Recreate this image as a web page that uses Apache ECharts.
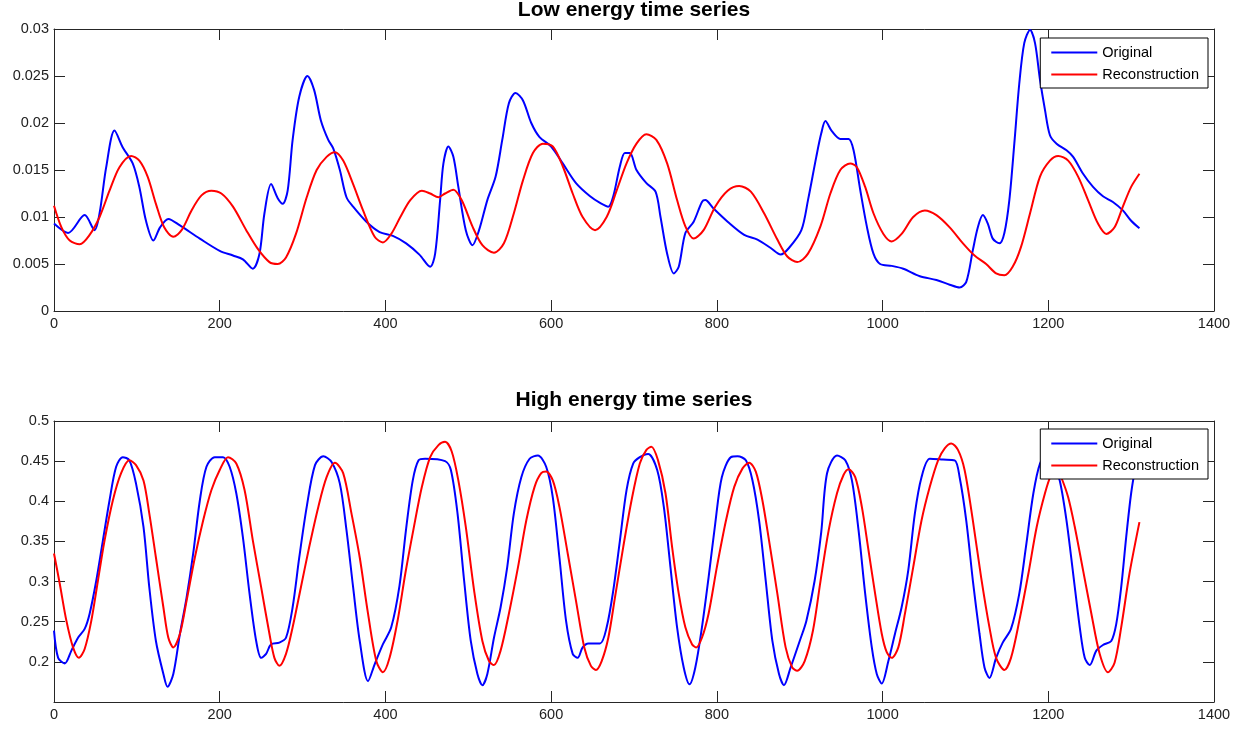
<!DOCTYPE html>
<html>
<head>
<meta charset="utf-8">
<title>Low / High energy time series</title>
<script src="https://cdn.jsdelivr.net/npm/echarts@6/dist/echarts.min.js"></script>
<style>
  html, body { margin: 0; padding: 0; background: #fff; }
  #main { width: 1259px; height: 731px; }
</style>
</head>
<body>
<div id="main"></div>
<script>
// values, [sample index, value]
var lowOriginal = [[0,0.0093],[17,0.0083],[37,0.0102],[49,0.0086],[55,0.0104],[63,0.0153],[73,0.0192],[83,0.0174],[95,0.0157],[103,0.0132],[111,0.0096],[120,0.0075],[128,0.0089],[138,0.0098],[152,0.0091],[176,0.0077],[200,0.0064],[216,0.0059],[228,0.0055],[240,0.0045],[248,0.0061],[254,0.0104],[262,0.0135],[270,0.0120],[276,0.0114],[282,0.0128],[288,0.0182],[296,0.0228],[306,0.0250],[314,0.0235],[322,0.0203],[331,0.0182],[337,0.0173],[345,0.0150],[353,0.0121],[361,0.0111],[377,0.0095],[393,0.0084],[409,0.0080],[425,0.0072],[441,0.0060],[454,0.0047],[460,0.0061],[466,0.0118],[470,0.0157],[476,0.0175],[482,0.0164],[488,0.0132],[497,0.0086],[505,0.0070],[513,0.0086],[523,0.0118],[533,0.0143],[541,0.0182],[549,0.0221],[557,0.0232],[566,0.0224],[576,0.0200],[586,0.0185],[600,0.0175],[614,0.0157],[630,0.0136],[647,0.0122],[659,0.0115],[669,0.0111],[675,0.0122],[683,0.0154],[689,0.0168],[695,0.0168],[703,0.0150],[715,0.0136],[726,0.0127],[732,0.0100],[740,0.0061],[748,0.0040],[754,0.0047],[762,0.0083],[772,0.0095],[782,0.0116],[786,0.0118],[796,0.0109],[813,0.0095],[833,0.0081],[849,0.0076],[865,0.0067],[877,0.0060],[887,0.0067],[902,0.0086],[910,0.0118],[920,0.0164],[926,0.0189],[931,0.0202],[939,0.0191],[949,0.0183],[959,0.0183],[965,0.0171],[973,0.0129],[981,0.0090],[989,0.0061],[997,0.0050],[1011,0.0048],[1025,0.0045],[1045,0.0037],[1065,0.0033],[1081,0.0028],[1093,0.0025],[1101,0.0031],[1109,0.0065],[1115,0.0089],[1121,0.0102],[1127,0.0093],[1133,0.0077],[1141,0.0072],[1147,0.0083],[1153,0.0118],[1159,0.0178],[1165,0.0242],[1171,0.0285],[1178,0.0299],[1184,0.0285],[1190,0.0246],[1196,0.0214],[1202,0.0187],[1210,0.0178],[1222,0.0171],[1230,0.0164],[1242,0.0146],[1254,0.0132],[1266,0.0122],[1278,0.0116],[1290,0.0107],[1300,0.0096],[1310,0.0088]];

var lowRecon = [[0,0.0112],[9,0.0089],[19,0.0075],[31,0.0071],[43,0.0081],[55,0.0100],[67,0.0128],[79,0.0153],[93,0.0165],[103,0.0160],[113,0.0143],[123,0.0114],[133,0.0089],[144,0.0079],[154,0.0086],[166,0.0107],[178,0.0123],[190,0.0128],[202,0.0125],[216,0.0111],[232,0.0086],[246,0.0066],[260,0.0052],[270,0.0050],[280,0.0057],[292,0.0082],[305,0.0121],[317,0.0150],[329,0.0164],[339,0.0169],[349,0.0160],[361,0.0135],[373,0.0107],[387,0.0079],[397,0.0073],[407,0.0082],[418,0.0100],[430,0.0118],[444,0.0128],[454,0.0125],[464,0.0121],[472,0.0125],[482,0.0129],[492,0.0118],[505,0.0090],[517,0.0070],[531,0.0062],[543,0.0072],[555,0.0104],[566,0.0139],[578,0.0168],[590,0.0178],[602,0.0175],[614,0.0154],[626,0.0125],[638,0.0100],[653,0.0086],[667,0.0100],[679,0.0128],[691,0.0157],[703,0.0178],[715,0.0188],[727,0.0182],[740,0.0157],[752,0.0118],[762,0.0090],[772,0.0077],[784,0.0086],[798,0.0111],[813,0.0128],[827,0.0133],[841,0.0127],[857,0.0104],[873,0.0076],[885,0.0058],[897,0.0052],[910,0.0061],[925,0.0090],[937,0.0125],[949,0.0150],[961,0.0157],[969,0.0153],[979,0.0132],[989,0.0104],[1001,0.0082],[1011,0.0074],[1023,0.0082],[1037,0.0100],[1051,0.0107],[1065,0.0102],[1081,0.0089],[1097,0.0072],[1111,0.0059],[1125,0.0050],[1137,0.0040],[1147,0.0038],[1157,0.0047],[1167,0.0068],[1178,0.0104],[1190,0.0143],[1202,0.0160],[1212,0.0165],[1224,0.0160],[1236,0.0143],[1248,0.0118],[1260,0.0093],[1270,0.0082],[1280,0.0089],[1290,0.0111],[1300,0.0132],[1310,0.0146]];

var highOriginal = [[0,0.239],[5,0.205],[13,0.198],[21,0.214],[29,0.230],[37,0.241],[43,0.260],[51,0.301],[59,0.351],[67,0.401],[75,0.443],[83,0.455],[91,0.451],[99,0.422],[108,0.368],[115,0.293],[123,0.226],[132,0.185],[137,0.169],[144,0.185],[152,0.235],[160,0.280],[168,0.335],[176,0.401],[184,0.443],[194,0.455],[204,0.455],[212,0.443],[220,0.410],[228,0.355],[236,0.285],[244,0.226],[250,0.205],[256,0.210],[262,0.222],[272,0.224],[280,0.230],[288,0.268],[296,0.330],[305,0.393],[315,0.445],[325,0.456],[335,0.449],[345,0.422],[353,0.364],[361,0.293],[369,0.226],[379,0.176],[387,0.197],[397,0.222],[407,0.243],[417,0.295],[425,0.366],[433,0.426],[440,0.451],[448,0.453],[472,0.450],[479,0.439],[487,0.385],[495,0.301],[503,0.226],[511,0.185],[517,0.171],[523,0.185],[531,0.230],[539,0.268],[547,0.318],[555,0.385],[564,0.430],[574,0.453],[584,0.457],[594,0.443],[602,0.405],[610,0.330],[618,0.251],[626,0.210],[632,0.205],[638,0.218],[645,0.223],[659,0.223],[667,0.243],[675,0.289],[683,0.351],[691,0.414],[699,0.447],[707,0.455],[717,0.459],[728,0.439],[736,0.393],[744,0.318],[752,0.243],[760,0.193],[767,0.172],[774,0.193],[782,0.243],[790,0.305],[798,0.372],[806,0.430],[817,0.455],[825,0.456],[835,0.451],[843,0.426],[851,0.376],[859,0.301],[867,0.226],[875,0.185],[881,0.171],[889,0.193],[900,0.226],[908,0.251],[918,0.301],[926,0.362],[933,0.435],[945,0.457],[955,0.451],[963,0.426],[971,0.364],[979,0.285],[987,0.218],[993,0.185],[999,0.173],[1007,0.201],[1015,0.235],[1023,0.268],[1031,0.314],[1039,0.385],[1047,0.430],[1057,0.453],[1073,0.452],[1087,0.451],[1093,0.430],[1101,0.376],[1109,0.301],[1117,0.235],[1123,0.193],[1129,0.180],[1137,0.205],[1145,0.224],[1155,0.241],[1165,0.285],[1173,0.343],[1182,0.410],[1190,0.447],[1198,0.456],[1206,0.449],[1214,0.425],[1222,0.376],[1230,0.310],[1238,0.243],[1244,0.205],[1250,0.196],[1258,0.214],[1266,0.221],[1276,0.226],[1282,0.247],[1288,0.293],[1294,0.355],[1300,0.410],[1305,0.440],[1310,0.455]];

var highRecon = [[0,0.335],[7,0.297],[15,0.251],[23,0.218],[30,0.205],[37,0.216],[45,0.251],[53,0.301],[61,0.351],[71,0.401],[81,0.435],[91,0.451],[99,0.445],[108,0.426],[115,0.385],[123,0.330],[132,0.268],[138,0.230],[144,0.218],[152,0.235],[160,0.276],[170,0.330],[180,0.376],[190,0.414],[200,0.439],[210,0.455],[220,0.447],[230,0.414],[240,0.351],[250,0.293],[260,0.235],[266,0.205],[272,0.195],[280,0.210],[288,0.243],[298,0.293],[308,0.343],[319,0.393],[329,0.430],[339,0.448],[349,0.435],[359,0.385],[369,0.330],[379,0.260],[389,0.201],[397,0.187],[405,0.205],[415,0.253],[424,0.310],[434,0.366],[444,0.418],[454,0.455],[464,0.470],[472,0.474],[480,0.462],[488,0.426],[497,0.368],[507,0.289],[517,0.226],[525,0.201],[531,0.196],[539,0.214],[549,0.260],[560,0.318],[570,0.376],[580,0.418],[588,0.435],[594,0.437],[602,0.426],[610,0.393],[620,0.335],[630,0.276],[640,0.218],[648,0.195],[654,0.190],[661,0.201],[669,0.230],[677,0.280],[687,0.343],[697,0.401],[707,0.447],[715,0.464],[721,0.468],[729,0.451],[738,0.410],[746,0.343],[754,0.285],[762,0.243],[770,0.222],[775,0.218],[782,0.230],[790,0.260],[800,0.318],[811,0.376],[821,0.418],[831,0.441],[839,0.448],[847,0.437],[855,0.401],[863,0.351],[873,0.285],[883,0.218],[891,0.193],[897,0.189],[906,0.201],[916,0.239],[925,0.300],[935,0.364],[945,0.410],[953,0.433],[959,0.440],[967,0.430],[975,0.393],[983,0.339],[991,0.285],[999,0.235],[1005,0.212],[1011,0.205],[1019,0.218],[1027,0.260],[1037,0.318],[1047,0.376],[1057,0.418],[1067,0.451],[1075,0.466],[1083,0.472],[1091,0.464],[1099,0.439],[1109,0.376],[1119,0.305],[1129,0.243],[1137,0.205],[1147,0.190],[1155,0.205],[1165,0.251],[1176,0.310],[1186,0.368],[1196,0.410],[1203,0.432],[1210,0.442],[1216,0.429],[1224,0.405],[1232,0.368],[1242,0.314],[1252,0.260],[1262,0.210],[1272,0.187],[1280,0.199],[1288,0.243],[1298,0.310],[1310,0.374]];

var seriesNames = ['Original', 'Reconstruction'];
var panelTitles = ['Low energy time series', 'High energy time series'];

var FONT = '"Liberation Sans", Arial, Helvetica, sans-serif';
var AXIS_COLOR = '#262626';

function xAxes(gridIndex, pos, showLabel) {
  return {
    type: 'value', gridIndex: gridIndex, position: pos,
    min: 0, max: 1400, interval: 200,
    axisLine: { show: true, onZero: false, lineStyle: { color: AXIS_COLOR, width: 1 } },
    axisTick: { show: true, inside: true, length: 11, lineStyle: { color: AXIS_COLOR } },
    axisLabel: {
      show: showLabel, color: '#222', fontSize: 14.5, fontFamily: FONT, margin: 5,
      formatter: function (v) { return String(v); }
    },
    splitLine: { show: false }
  };
}
function yAxes(gridIndex, pos, showLabel, min, max, interval, showMin) {
  return {
    type: 'value', gridIndex: gridIndex, position: pos,
    min: min, max: max, interval: interval,
    axisLine: { show: true, onZero: false, lineStyle: { color: AXIS_COLOR, width: 1 } },
    axisTick: { show: true, inside: true, length: 11, lineStyle: { color: AXIS_COLOR } },
    axisLabel: { show: showLabel, color: '#222', fontSize: 14.5, fontFamily: FONT, margin: 5, showMinLabel: showMin },
    splitLine: { show: false }
  };
}
function legendFor(top) {
  return {
    data: seriesNames, orient: 'vertical', right: 51, top: top,
    backgroundColor: '#fff', borderColor: '#000', borderWidth: 1, borderRadius: 0,
    padding: [7, 9, 6, 10], itemGap: 7, itemWidth: 46, itemHeight: 14,
    itemStyle: { opacity: 0 },
    textStyle: { color: '#000', fontSize: 14.5, fontFamily: FONT }
  };
}
function line(name, data, color, xi, yi) {
  return {
    type: 'line', name: name, data: data, xAxisIndex: xi, yAxisIndex: yi,
    symbol: 'none', smooth: 0.3, color: color,
    lineStyle: { color: color, width: 2 }
  };
}

var chart = echarts.init(document.getElementById('main'));
chart.setOption({
  animation: false,
  backgroundColor: '#fff',
  title: [
    { text: panelTitles[0], left: 634, top: 0, textAlign: 'center', padding: 0,
      textStyle: { fontSize: 21, fontWeight: 'bold', color: '#000', fontFamily: FONT } },
    { text: panelTitles[1], left: 634, top: 390, textAlign: 'center', padding: 0,
      textStyle: { fontSize: 21, fontWeight: 'bold', color: '#000', fontFamily: FONT } }
  ],
  legend: [legendFor(38), legendFor(429)],
  grid: [
    { left: 54, right: 45, top: 29, height: 282 },
    { left: 54, right: 45, top: 421, height: 281 }
  ],
  xAxis: [xAxes(0, 'bottom', true), xAxes(0, 'top', false), xAxes(1, 'bottom', true), xAxes(1, 'top', false)],
  yAxis: [
    yAxes(0, 'left', true, 0, 0.03, 0.005, true), yAxes(0, 'right', false, 0, 0.03, 0.005, true),
    yAxes(1, 'left', true, 0.15, 0.5, 0.05, false), yAxes(1, 'right', false, 0.15, 0.5, 0.05, false)
  ],
  series: [
    line(seriesNames[0], lowOriginal, '#0000ff', 0, 0),
    line(seriesNames[1], lowRecon, '#ff0000', 0, 0),
    line(seriesNames[0], highOriginal, '#0000ff', 2, 2),
    line(seriesNames[1], highRecon, '#ff0000', 2, 2)
  ]
});
</script>
</body>
</html>
